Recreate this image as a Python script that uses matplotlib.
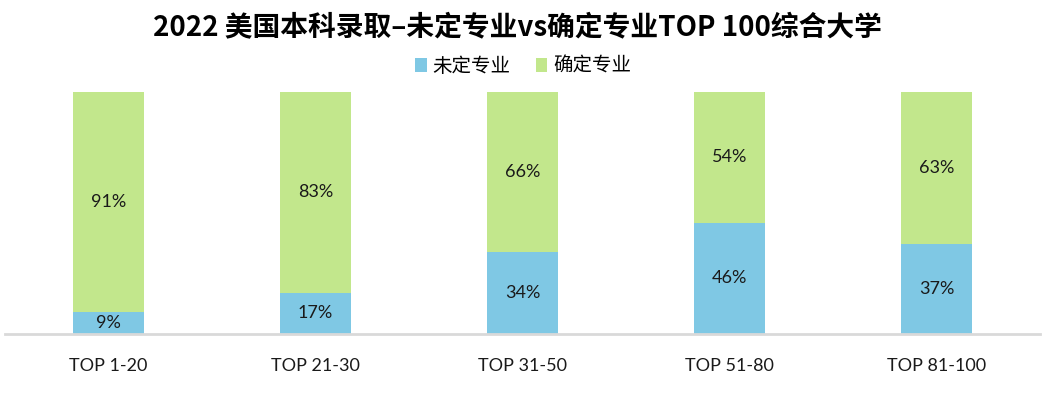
"""Undeclared vs declared major admission share, US top 100 universities (2022)."""

import matplotlib.pyplot as plt
import numpy as np

categories = ["TOP 1-20", "TOP 21-30", "TOP 31-50", "TOP 51-80", "TOP 81-100"]
undeclared = [9, 17, 34, 46, 37]
declared = [91, 83, 66, 54, 63]
series_names = ["未定专业", "确定专业"]
title = "2022 美国本科录取–未定专业vs确定专业TOP 100综合大学"

BLUE = "#7FC8E4"
GREEN = "#C2E78C"

plt.rcParams["font.family"] = ["Noto Sans CJK SC", "DejaVu Sans"]

fig = plt.figure(figsize=(10.46, 3.96), dpi=100)
ax = fig.add_axes([5 / 1046, 62 / 396, 1035 / 1046, 242 / 396])

x = np.arange(len(categories))
width = 0.34
b1 = ax.bar(x, undeclared, width, color=BLUE, label=series_names[0])
b2 = ax.bar(x, declared, width, bottom=undeclared, color=GREEN, label=series_names[1])

num_font = ["Lato", "DejaVu Sans"]
for i in range(len(categories)):
    ax.text(x[i], undeclared[i] / 2, f"{undeclared[i]}%", ha="center", va="center",
            fontsize=13, family=num_font, color="#1a1a1a")
    ax.text(x[i], undeclared[i] + declared[i] / 2, f"{declared[i]}%", ha="center", va="center",
            fontsize=13, family=num_font, color="#1a1a1a")

ax.set_xlim(-0.5, len(categories) - 0.5)
ax.set_ylim(0, 100)
ax.set_yticks([])
ax.set_xticks(x)
ax.set_xticklabels(categories, fontsize=13, family=num_font, color="#1a1a1a")
ax.tick_params(axis="x", length=0, pad=17)
for side in ["top", "right", "left"]:
    ax.spines[side].set_visible(False)
ax.spines["bottom"].set_color("#D9D9D9")
ax.spines["bottom"].set_linewidth(2)

fig.text(0.495, 0.93, title, ha="center", va="center", fontsize=20, fontweight="bold")
fig.legend(handles=[b1, b2], loc="center", bbox_to_anchor=(0.5, 0.832), ncol=2,
           frameon=False, fontsize=14, handlelength=0.6, handleheight=0.7,
           handletextpad=0.3, columnspacing=1.3)

fig.savefig("out.png", dpi=100)
